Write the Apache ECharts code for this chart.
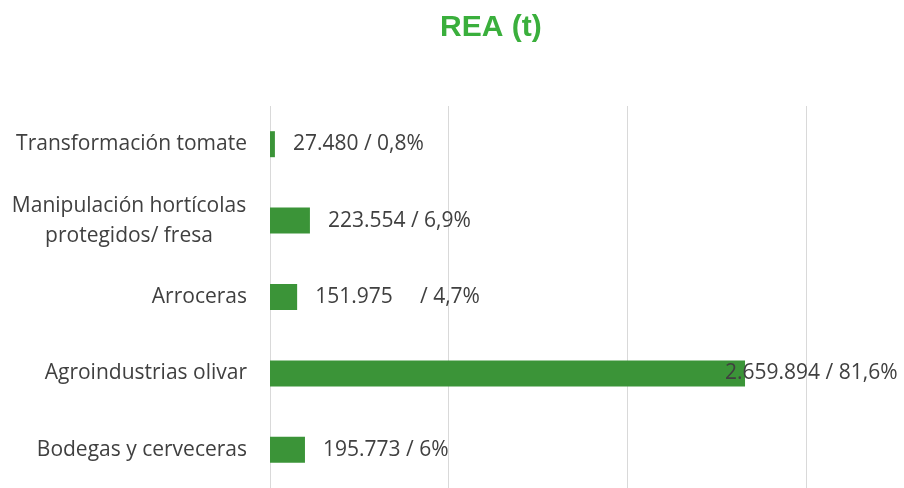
<!DOCTYPE html>
<html>
<head>
<meta charset="utf-8">
<script src="https://cdn.jsdelivr.net/npm/echarts@6/dist/echarts.min.js"></script>
<style>
  html, body { margin: 0; padding: 0; background: #ffffff; }
  #chart { width: 904px; height: 488px; }
</style>
</head>
<body>
<div id="chart"></div>
<script>
// Residuos (REA) por sector, en toneladas, de arriba abajo
const categories = [
  'Transformación tomate',
  'Manipulación hortícolas\nprotegidos/ fresa',
  'Arroceras',
  'Agroindustrias olivar',
  'Bodegas y cerveceras'
];
const tonnes = [27480, 223554, 151975, 2659894, 195773];
const shares = [0.8, 6.9, 4.7, 81.6, 6];
const gaps = [' ', ' ', '     ', ' ', ' '];
const xTicks = [0, 1000000, 2000000, 3000000];

const fmtThousands = v => String(v).replace(/\B(?=(\d{3})+(?!\d))/g, '.');
const fmtShare = v => String(v).replace('.', ',') + '%';

const barGreen = '#3b9438';
const textGray = '#404040';
const catFont = 21;

const chart = echarts.init(document.getElementById('chart'), null, { renderer: 'canvas' });

chart.setOption({
  backgroundColor: '#ffffff',
  animation: false,
  title: {
    text: 'REA (t)',
    left: 435,
    top: 8,
    textStyle: {
      color: '#3aaf3c',
      fontFamily: 'Liberation Sans, Arial, sans-serif',
      fontWeight: 'bold',
      fontSize: 30
    }
  },
  grid: {
    left: 270,
    top: 106,
    right: 0,
    height: 387,
    containLabel: false
  },
  xAxis: {
    type: 'value',
    min: 0,
    max: 3550000,
    interval: 1000000,
    axisLine: { show: false },
    axisTick: { show: false },
    axisLabel: { show: false },
    splitLine: { show: true, showMaxLine: false, lineStyle: { color: '#d9d9d9', width: 1 } }
  },
  yAxis: {
    type: 'category',
    inverse: true,
    data: categories,
    axisLine: { show: false },
    axisTick: { show: false },
    axisLabel: {
      margin: 23,
      color: textGray,
      fontFamily: 'Open Sans, sans-serif',
      fontSize: catFont,
      lineHeight: 30,
      formatter: function (v) {
        if (v.indexOf('\n') >= 0) {
          return v.split('\n').map(s => '{c|' + s + '}').join('\n');
        }
        return v;
      },
      rich: {
        c: {
          width: 236,
          align: 'center',
          color: textGray,
          fontFamily: 'Open Sans, sans-serif',
          fontSize: catFont,
          lineHeight: 30
        }
      }
    }
  },
  series: [{
    type: 'bar',
    barWidth: 26,
    itemStyle: { color: barGreen },
    data: tonnes.map((v, i) => {
      const item = { value: v };
      if (i === 3) item.label = { offset: [-38, 0] };
      return item;
    }),
    label: {
      show: true,
      position: 'right',
      distance: 18,
      color: textGray,
      fontFamily: 'Open Sans, sans-serif',
      fontSize: 21,
      formatter: p => fmtThousands(tonnes[p.dataIndex]) + gaps[p.dataIndex] + '/ ' + fmtShare(shares[p.dataIndex])
    }
  }]
});
</script>
</body>
</html>
